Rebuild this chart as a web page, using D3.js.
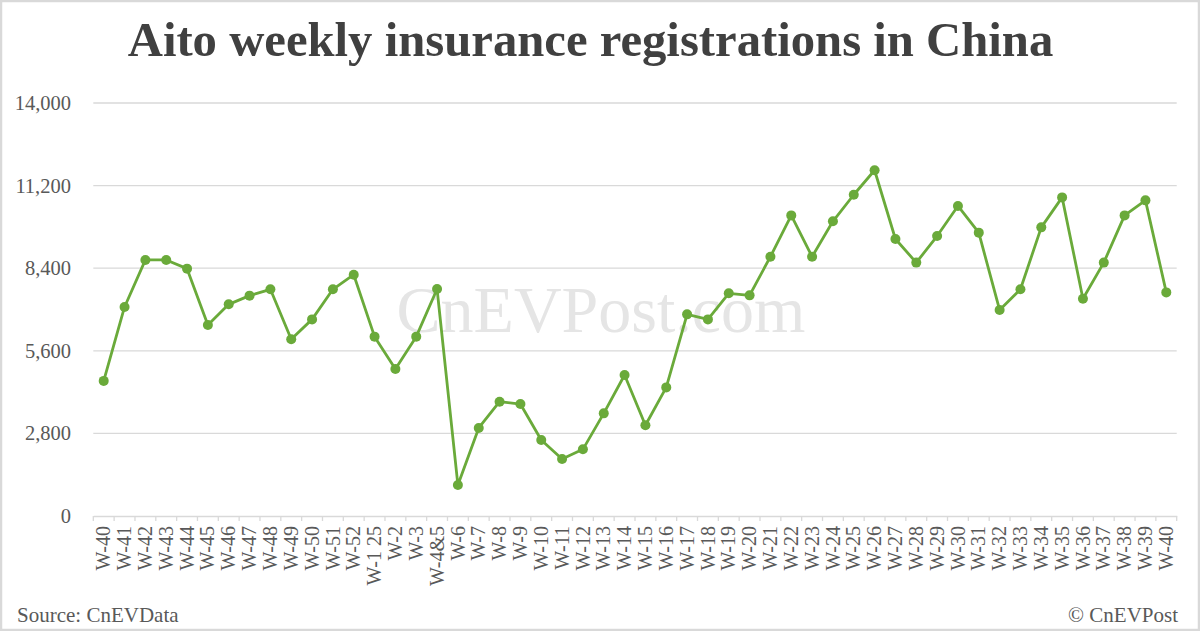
<!DOCTYPE html>
<html>
<head>
<meta charset="utf-8">
<script src="https://cdn.jsdelivr.net/npm/d3@7"></script>
<style>
  html, body { margin: 0; padding: 0; background: #fff; }
  svg { display: block; }
</style>
</head>
<body>
<svg id="chart" width="1200" height="631"></svg>
<script>
const categories = ["W-40","W-41","W-42","W-43","W-44","W-45","W-46","W-47","W-48","W-49","W-50","W-51","W-52","W-1 25","W-2","W-3","W-4&5","W-6","W-7","W-8","W-9","W-10","W-11","W-12","W-13","W-14","W-15","W-16","W-17","W-18","W-19","W-20","W-21","W-22","W-23","W-24","W-25","W-26","W-27","W-28","W-29","W-30","W-31","W-32","W-33","W-34","W-35","W-36","W-37","W-38","W-39","W-40 "];
const registrations = [4580,7085,8680,8680,8385,6475,7175,7470,7685,5990,6665,7685,8180,6080,4985,6080,7695,1050,2985,3875,3795,2575,1930,2260,3480,4780,3075,4360,6835,6665,7550,7480,8790,10190,8790,9990,10890,11720,9390,8590,9490,10510,9605,6985,7685,9785,10800,7365,8590,10190,10700,7580];
const yTicks = [0,2800,5600,8400,11200,14000];
const titleText = "Aito weekly insurance registrations in China";
const sourceText = "Source: CnEVData";
const creditText = "© CnEVPost";
const watermarkText = "CnEVPost.com";

(function(){
const svg = d3.select("#chart");
const W = 1200, H = 631;
const pL = 93.3, pR = 1176.7, pT = 103, pB = 516;
const serif = "'Liberation Serif','Times New Roman',serif";

// border
svg.append("rect").attr("x",1).attr("y",1).attr("width",W-2).attr("height",H-2)
  .attr("fill","#fff").attr("stroke","#d9d9d9").attr("stroke-width",2.5);

const x = d3.scaleBand().domain(d3.range(categories.length)).range([pL,pR]).padding(0);
const y = d3.scaleLinear().domain([0,14000]).range([pB,pT]);

// title
svg.append("text").attr("x",590.5).attr("y",56).attr("text-anchor","middle")
  .attr("font-family",serif).attr("font-weight","bold").attr("font-size",48.7)
  .attr("fill","#404040").text(titleText);

// gridlines
svg.append("g").selectAll("line").data(yTicks.filter(d=>d>0)).join("line")
  .attr("x1",pL).attr("x2",pR).attr("y1",d=>y(d)).attr("y2",d=>y(d))
  .attr("stroke","#d9d9d9").attr("stroke-width",1.3);

// watermark
svg.append("text").attr("x",601).attr("y",332).attr("text-anchor","middle")
  .attr("font-family",serif).attr("font-size",66).attr("fill","#e5e5e5")
  .text(watermarkText);

// y axis labels
const yAxis = d3.axisLeft(y).tickValues(yTicks).tickSize(0).tickPadding(0)
  .tickFormat(d3.format(","));
const yg = svg.append("g").attr("transform",`translate(71,0)`).call(yAxis);
yg.select(".domain").remove();
yg.selectAll("text").attr("font-family",serif).attr("font-size",20.5).attr("fill","#595959");

// x axis
const xAxis = d3.axisBottom(x).tickSize(0).tickFormat(i=>categories[i].trim());
const xg = svg.append("g").attr("transform",`translate(0,${pB})`).call(xAxis);
xg.select(".domain").attr("stroke","#d9d9d9").attr("stroke-width",1.3);
xg.selectAll("text")
  .attr("font-family",serif).attr("font-size",20).attr("fill","#595959")
  .attr("transform","rotate(-90)").attr("text-anchor","end")
  .attr("x",-10).attr("y",0).attr("dy","0.33em");
// tick marks at band boundaries
svg.append("g").selectAll("line").data(d3.range(categories.length+1)).join("line")
  .attr("x1",i=>pL + i*x.step()).attr("x2",i=>pL + i*x.step())
  .attr("y1",pB).attr("y2",pB+5)
  .attr("stroke","#d9d9d9").attr("stroke-width",1.3);

// line
const cx = i => x(i) + x.bandwidth()/2;
const line = d3.line().x((d,i)=>cx(i)).y(d=>y(d));
svg.append("path").datum(registrations).attr("d",line)
  .attr("fill","none").attr("stroke","#6aaa3a").attr("stroke-width",2.8)
  .attr("stroke-linejoin","round");
svg.append("g").selectAll("circle").data(registrations).join("circle")
  .attr("cx",(d,i)=>cx(i)).attr("cy",d=>y(d)).attr("r",5).attr("fill","#6aaa3a");

// footer
svg.append("text").attr("x",17).attr("y",622).attr("font-family",serif)
  .attr("font-size",21).attr("fill","#595959").text(sourceText);
svg.append("text").attr("x",1178).attr("y",622).attr("text-anchor","end").attr("font-family",serif)
  .attr("font-size",21).attr("fill","#595959").text(creditText);
})();
</script>
</body>
</html>
